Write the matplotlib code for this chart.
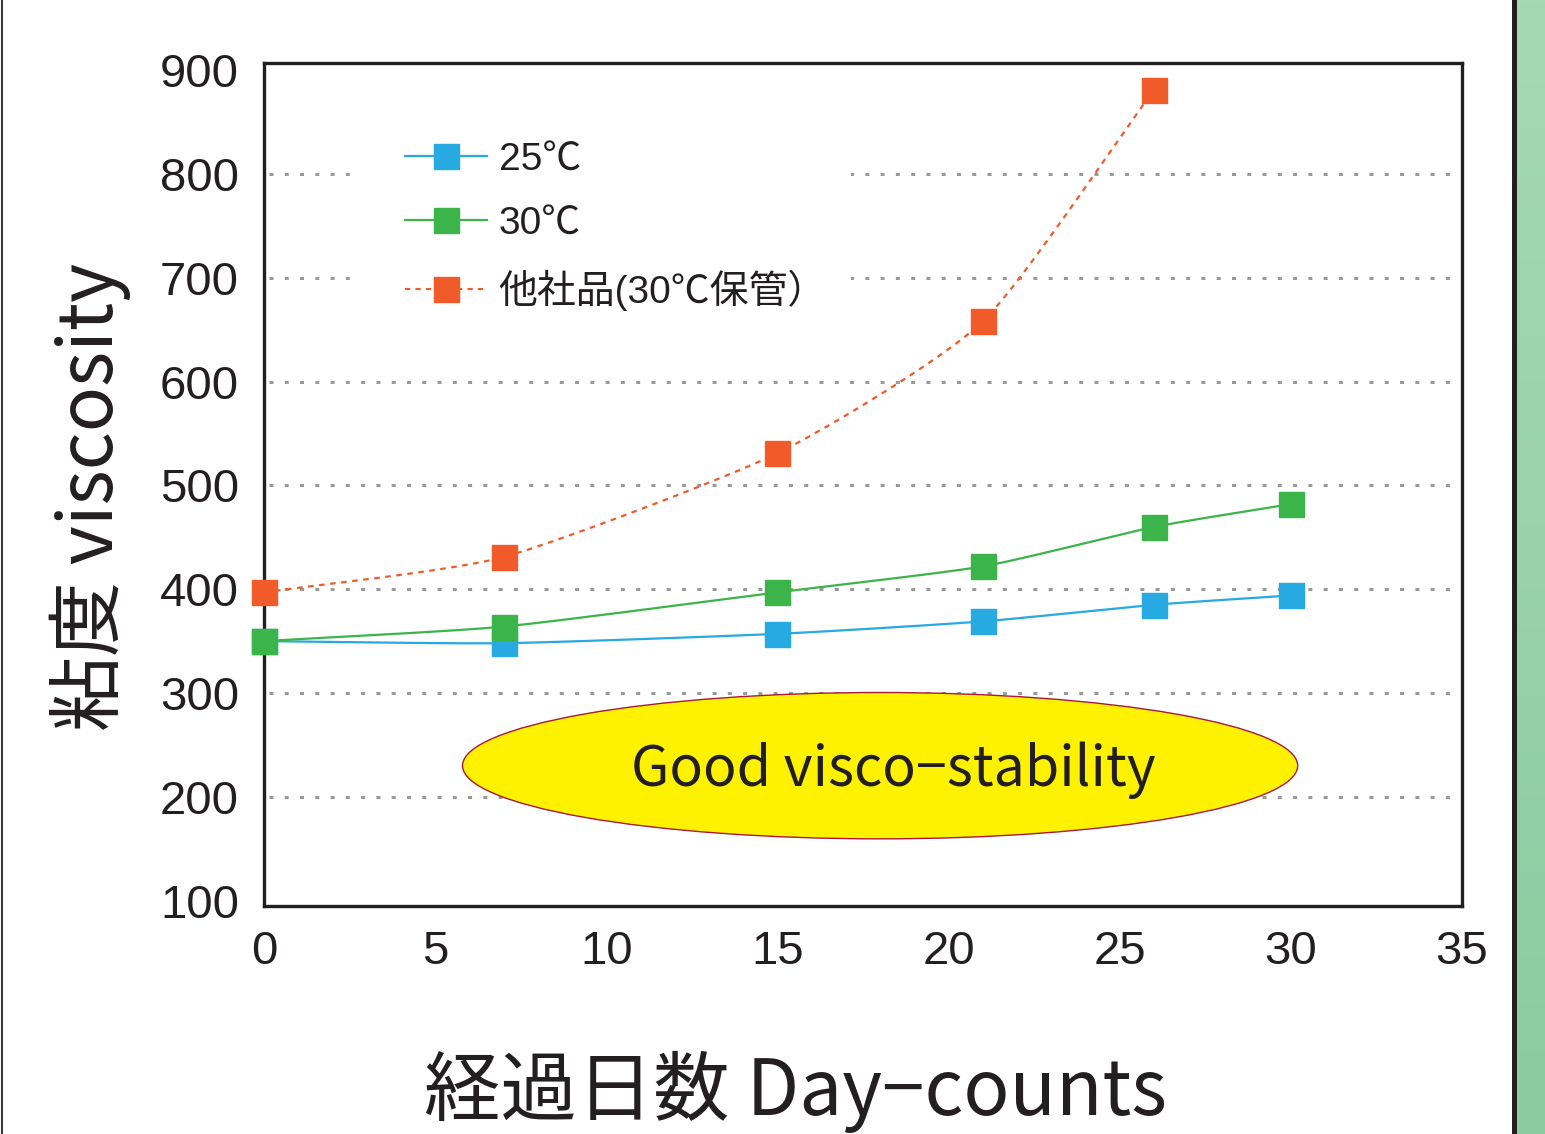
import numpy as np
import matplotlib
matplotlib.use("Agg")
import matplotlib.pyplot as plt
from matplotlib.patches import Ellipse, Rectangle
from matplotlib.lines import Line2D

plt.rcParams['font.family'] = ['Noto Sans CJK JP', 'DejaVu Sans']

# 経過日数と粘度
days = [0, 7, 15, 21, 26, 30]
visc_25 = [350, 348, 357, 369, 385, 394]
visc_30 = [350, 364, 397, 422, 460, 482]
days_other = [0, 7, 15, 21, 26]
visc_other = [397, 431, 531, 658, 881]

labels = ['25℃', '30℃', '他社品(30℃保管）']
xticks = [0, 5, 10, 15, 20, 25, 30, 35]
yticks = [100, 200, 300, 400, 500, 600, 700, 800, 900]
grid_levels = [200, 300, 400, 500, 600, 700, 800]

c_blue = '#27A9E1'
c_green = '#3BB54A'
c_orange = '#F15A29'


def smooth(xs, ys, k=0.6, n=40):
    # エルミート補間で点の間を滑らかにつなぐ (k は接線の強さ)
    x = np.asarray(xs, float)
    y = np.asarray(ys, float)
    px = np.concatenate([[2 * x[0] - x[1]], x, [2 * x[-1] - x[-2]]])
    py = np.concatenate([[2 * y[0] - y[1]], y, [2 * y[-1] - y[-2]]])
    t = np.linspace(0, 1, n)
    h00 = 2 * t ** 3 - 3 * t ** 2 + 1
    h10 = t ** 3 - 2 * t ** 2 + t
    h01 = -2 * t ** 3 + 3 * t ** 2
    h11 = t ** 3 - t ** 2
    outx, outy = [], []
    for i in range(1, len(px) - 2):
        for p, out in ((px, outx), (py, outy)):
            m1 = k * (p[i + 1] - p[i - 1]) / 2
            m2 = k * (p[i + 2] - p[i]) / 2
            out.extend(h00 * p[i] + h10 * m1 + h01 * p[i + 1] + h11 * m2)
    return np.array(outx), np.array(outy)


fig = plt.figure(figsize=(15.45, 11.34), dpi=100)
ax = fig.add_axes([264 / 1545, 1 - 906 / 1134, 1198 / 1545, 843 / 1134])

ax.set_xlim(0, 35)
ax.set_ylim(94.8, 907)

for lv in grid_levels:
    ax.plot([0.15, 34.8], [lv, lv], color='#999999', lw=2.2,
            linestyle=(0, (1.3, 3.7)), zorder=0.5, clip_on=False)

# 凡例の背景
ax.add_patch(Rectangle((0.08, 0.683), 0.41, 0.31, transform=ax.transAxes,
                       facecolor='white', edgecolor='none', zorder=1))

# Good visco-stability の楕円
ax.add_patch(Ellipse((18.0, 230), 24.4, 141, facecolor='#FFF200',
                     edgecolor='#A8193A', lw=1.0, zorder=1.5))
ax.text(18.4, 226, 'Good visco−stability', ha='center', va='center',
        fontsize=40, color='#231F20', zorder=3)

series = [
    (days, visc_25, c_blue, '-'),
    (days, visc_30, c_green, '-'),
    (days_other, visc_other, c_orange, (0, (2.5, 2.5))),
]
for xs, ys, col, ls in series:
    sx, sy = smooth(xs, ys)
    ax.plot(sx, sy, color=col, lw=1.6, linestyle=ls, zorder=2)
    ax.plot(xs, ys, 's', color=col, ms=18, zorder=5, clip_on=False)

handles = [
    Line2D([], [], color=c_blue, lw=1.6, marker='s', ms=18),
    Line2D([], [], color=c_green, lw=1.6, marker='s', ms=18),
    Line2D([], [], color=c_orange, lw=1.5, linestyle=(0, (2.5, 2.5)),
           marker='s', ms=18),
]
leg = ax.legend(handles, labels, loc='upper left',
                bbox_to_anchor=(0.118, 0.907), frameon=False,
                handlelength=2.1, handletextpad=0.3, labelspacing=0.72,
                borderpad=0, borderaxespad=0,
                prop={'family': ['Liberation Sans', 'Noto Sans CJK JP'],
                      'size': 28})
for t in leg.get_texts():
    t.set_color('#231F20')

ax.set_xticks(xticks)
ax.set_yticks(yticks)
ax.tick_params(length=0, labelsize=34, colors='#231F20')
ax.tick_params(axis='x', pad=17)
ax.tick_params(axis='y', pad=18)
for lab in ax.get_xticklabels() + ax.get_yticklabels():
    lab.set_family(['Liberation Sans', 'DejaVu Sans'])

for sp in ax.spines.values():
    sp.set_linewidth(2.4)
    sp.set_color('#231F20')
    sp.set_zorder(4)

fig.text(90 / 1545, 1 - 497 / 1134, '粘度 viscosity', rotation=90,
         ha='center', va='center', fontsize=54, color='#231F20')
fig.text(795 / 1545, 1 - 1092 / 1134, '経過日数 Day−counts',
         ha='center', va='center', fontsize=55, color='#231F20')

# 左右の枠と右端の帯
fig.add_artist(Line2D([2 / 1545, 2 / 1545], [0, 1], color='#3a3a3a', lw=1.5))
fig.add_artist(Line2D([1514 / 1545, 1514 / 1545], [0, 1], color='#231F20', lw=3.6))
grad = np.linspace(0, 1, 256).reshape(-1, 1)
gax = fig.add_axes([1517 / 1545, 0, 28 / 1545, 1])
gax.imshow(grad, aspect='auto', cmap=matplotlib.colors.LinearSegmentedColormap.from_list(
    'band', ['#A6D8B6', '#8BCB9F']))
gax.axis('off')

fig.savefig('out.png', dpi=100)
